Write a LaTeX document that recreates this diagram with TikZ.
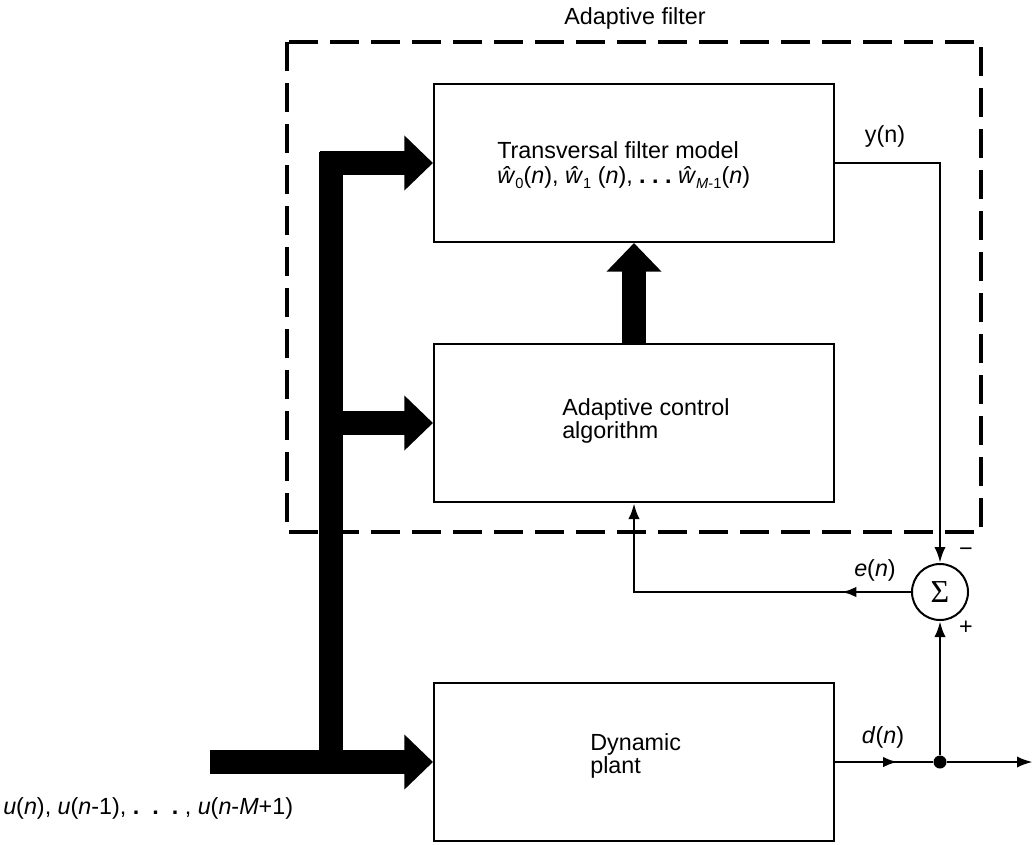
\documentclass[tikz,border=0pt]{standalone}
\usepackage{fontspec}
\setmainfont{Liberation Sans}
\newfontfamily\symfont{Liberation Serif}
\usetikzlibrary{arrows.meta,decorations.markings}
% small lowered index for the weight labels
\newcommand\lowidx[1]{\raisebox{-0.35ex}{\fontsize{11}{11}\selectfont #1}}
% heavy dot used in the ellipses
\newcommand\hdot{\textbf{.}}

\begin{document}
\begin{tikzpicture}[x=0.75pt,y=-0.75pt,
  box/.style={draw, line width=1.5pt, rectangle, inner sep=0pt,
              minimum width=300pt, minimum height=118.5pt},
  lbl/.style={font=\fontsize{17.5}{17.25}\selectfont, inner sep=0pt},
  sig/.style={line width=2.2pt},
  tip/.style={-{Latex[length=12pt,width=8.5pt]}},
  bus/.style={line width=17.5pt, -{Triangle[length=21.5pt,width=40pt]}},
  frame/.style={line width=2.6pt, dash pattern=on 21.75pt off 9pt},
  midarrow/.style={postaction={decorate}, decoration={markings,
      mark=at position #1 with {\arrow{Latex[length=11pt,width=8pt]}}}},
]
\useasboundingbox (0,0) rectangle (1034,844);

% dashed outline of the adaptive filter
\draw[frame] (287,42) rectangle (981,532);
\node[lbl] (title) at (635,18) {Adaptive filter};

% blocks
\node[box] (tbox) at (634,163) {};
\node[box] (abox) at (634,423) {};
\node[box] (plant) at (634,762) {};

\node[lbl, align=left, anchor=north west] (ttext) at (497,141)
  {Transversal filter model\\[2pt]
   \textit{\^w}\lowidx{0}(\textit{n}), \textit{\^w}\lowidx{1} (\textit{n}),\ \hdot\ \hdot\ \hdot\ \textit{\^w}\lowidx{\textit{M}-1}(\textit{n})};
\node[lbl, align=left, anchor=north west] (atext) at (562,398)
  {Adaptive control\\algorithm};
\node[lbl, align=left, anchor=north west] (ptext) at (590,733)
  {Dynamic\\plant};

% summing junction and branch point
\node[circle, draw, line width=1.5pt, minimum size=42pt, inner sep=0pt] (sum) at (940,592)
  {\fontsize{24}{24}\selectfont\symfont Σ};
\node[circle, fill, inner sep=0pt, minimum size=9.75pt] (jn) at (940,762) {};
\coordinate (out) at (1033,762);
\coordinate (ec) at (abox.south |- sum.west);

% input bus
\coordinate (uin) at (210,762);
\coordinate (bustop) at (331,152);
\coordinate (busbot) at (331,770);
\coordinate (busA) at (320,163);
\coordinate (busB) at (331,423);
\draw[line width=17.5pt] (bustop) -- (busbot);
\draw[bus] (uin) -- (plant.west);
\draw[bus] (busA) -- (tbox.west);
\draw[bus] (busB) -- (abox.west);
\draw[bus] (abox.north) -- (tbox.south);

% signal lines
\draw[sig, tip] (tbox.east) -| (sum.north);
\draw[sig, tip, midarrow=52pt] (sum.west) -- (ec) -- (abox.south);
\draw[sig, midarrow=47pt] (plant.east) -- (jn);
\draw[sig, tip] (jn) -- (sum.south);
\draw[sig, tip] (jn) -- (out);

% signal labels
\node[lbl] (yl) at (885,136) {y(n)};
\node[lbl] (el) at (875,570) {\textit{e}(\textit{n})};
\node[lbl] (dl) at (883,737) {\textit{d}(\textit{n})};
\node[lbl] (minus) at (966,552) {\textminus};
\node[lbl] (plus) at (966,628) {+};
\node[lbl, anchor=west] (ul) at (3,808)
  {\textit{u}(\textit{n}), \textit{u}(\textit{n}-1),\ \hdot\ \ \hdot\ \ \hdot\ , \textit{u}(\textit{n}-\textit{M}+1)};
\end{tikzpicture}
\end{document}
